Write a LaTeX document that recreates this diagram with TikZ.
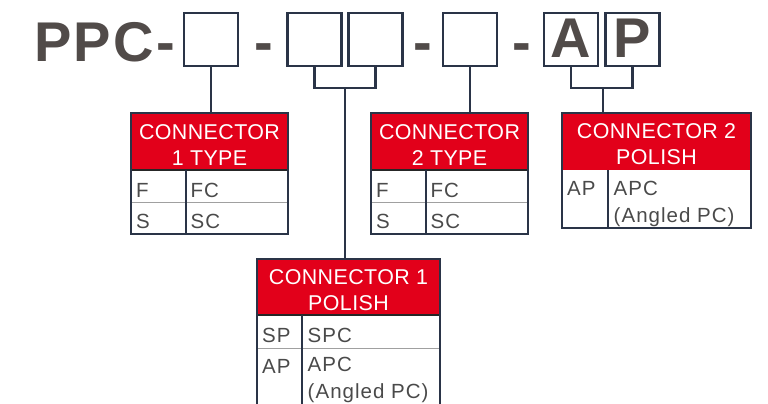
\documentclass[tikz,border=0pt]{standalone}
\usepackage{fontspec}
\setmainfont{Liberation Sans}
\newfontfamily\hdrfont[LetterSpace=2]{Liberation Sans}
\newfontfamily\bodyfont[LetterSpace=5]{Liberation Sans}
\newfontfamily\titlefont[LetterSpace=4]{Liberation Sans}
\definecolor{navy}{HTML}{2A3447}
\definecolor{hred}{HTML}{E2001A}
\definecolor{tgray}{HTML}{514B49}
\definecolor{bgray}{HTML}{4A4A4A}
\definecolor{sepgray}{HTML}{A0A0A0}
\tikzset{
  big/.style={font=\titlefont\bfseries\fontsize{56}{60}\selectfont, text=tgray, inner sep=0pt},
  slot/.style={draw=navy, line width=2.2pt, minimum width=54pt, minimum height=53pt, inner sep=0pt,
     font=\bfseries\fontsize{56}{60}\selectfont, text=tgray, text height=40pt, text depth=3pt},
  hdr/.style={fill=hred, inner sep=0pt},
  hdrtext/.style={text=white, align=center, inner sep=0pt, font=\hdrfont\fontsize{21.4}{26}\selectfont},
  cell/.style={text=bgray, inner sep=0pt, anchor=base west, align=left, font=\bodyfont\fontsize{20.5}{27}\selectfont},
  frame/.style={draw=navy, line width=2.2pt},
  hline/.style={draw=black!85, line width=2pt},
  rsep/.style={draw=sepgray, line width=1pt},
  conn/.style={draw=navy, line width=2.4pt},
}
\begin{document}
\begin{tikzpicture}[x=1pt, y=-1pt]
\useasboundingbox (0,0) rectangle (768,404);
% title row
\node[big, anchor=base west] (ppc) at (34,62) {PPC-};
\node[slot] (b1) at (211,39.5) {};
\node[big, anchor=base] (d1) at (264,62) {-};
\node[slot] (b2) at (314.5,39.5) {};
\node[slot] (b3) at (375.5,39.5) {};
\node[big, anchor=base] (d2) at (423,62) {-};
\node[slot] (b4) at (470,39.5) {};
\node[big, anchor=base] (d3) at (522,62) {-};
\node[slot] (b5) at (571,39.5) {A};
\node[slot] (b6) at (632.5,39.5) {P};

% table 1
\node[hdr, minimum width=157pt, minimum height=57pt] (t1h) at (209.5,141.5) {};
\node[hdrtext] (t1ht) at (209.5,145) {CONNECTOR\\1 TYPE};
\node[cell] (t1a) at (136,197) {F};
\node[cell] (t1b) at (190.5,197) {FC};
\node[cell] (t1c) at (136,228) {S};
\node[cell] (t1d) at (190.5,228) {SC};
\draw[rsep] (131,202) -- (288,202);
\draw[hline] (131,170) -- (288,170);
\draw[frame] (186,170) -- (186,234);
\draw[frame] (131,113) rectangle (288,234);

% table 2
\node[hdr, minimum width=157pt, minimum height=57pt] (t2h) at (449.5,141.5) {};
\node[hdrtext] (t2ht) at (449.5,145) {CONNECTOR\\2 TYPE};
\node[cell] (t2a) at (376,197) {F};
\node[cell] (t2b) at (430.5,197) {FC};
\node[cell] (t2c) at (376,228) {S};
\node[cell] (t2d) at (430.5,228) {SC};
\draw[rsep] (371,202) -- (528,202);
\draw[hline] (371,170) -- (528,170);
\draw[frame] (426,170) -- (426,234);
\draw[frame] (371,113) rectangle (528,234);

% table 3
\node[hdr, minimum width=189pt, minimum height=57pt] (t3h) at (656.5,141.5) {};
\node[hdrtext] (t3ht) at (656.5,144) {CONNECTOR 2\\POLISH};
\node[cell] (t3a) at (567,195) {AP};
\node[cell] (t3b) at (613.5,222) {APC\\(Angled PC)};
\draw[frame] (608,170) -- (608,228);
\draw[frame] (562,113) rectangle (751,228);

% table 4
\node[hdr, minimum width=183pt, minimum height=56pt] (t4h) at (348.5,287) {};
\node[hdrtext] (t4ht) at (348.5,290.5) {CONNECTOR 1\\POLISH};
\node[cell] (t4a) at (262,342) {SP};
\node[cell] (t4b) at (307.5,342) {SPC};
\node[cell] (t4c) at (262,373) {AP};
\node[cell] (t4d) at (307.5,398) {APC\\(Angled PC)};
\draw[rsep] (257,348) -- (440,348);
\draw[hline] (257,315) -- (440,315);
\draw[frame] (302,315) -- (302,406);
\draw[frame] (257,406) -- (257,259) -- (440,259) -- (440,406);

% connectors
\draw[conn] (b1.south) -- (t1h.north -| b1.south);
\draw[conn] (b4.south) -- (t2h.north -| b4.south);
\coordinate (j23) at (345,88);
\draw[conn] (b2.south) |- (j23) -| (b3.south);
\draw[conn] (j23) -- (t4h.north -| j23);
\coordinate (j56) at (603,88);
\draw[conn] (b5.south) |- (j56) -| (b6.south);
\draw[conn] (j56) -- (t3h.north -| j56);
\end{tikzpicture}
\end{document}
